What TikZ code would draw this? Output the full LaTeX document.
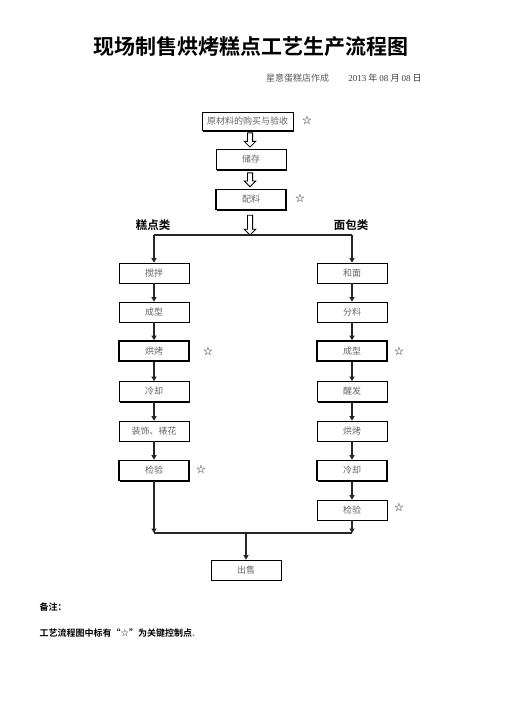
\documentclass[tikz,border=0pt]{standalone}
\usepackage{fontspec}
\newfontfamily\cjk{Noto Sans CJK SC}
\newfontfamily\cjkb{Noto Sans CJK SC Bold}
\newfontfamily\sym{DejaVu Sans}
\newfontfamily\serif{Liberation Serif}
\usetikzlibrary{arrows.meta,shadows,calc}
\begin{document}
\begin{tikzpicture}[x=1pt,y=-1pt,
  box/.style={draw, fill=white, line width=0.7pt, minimum width=70pt, minimum height=20pt,
    inner sep=0pt, text=black!60, font=\cjk\fontsize{9}{9}\selectfont,
    drop shadow={shadow xshift=1.2pt, shadow yshift=-1.2pt, opacity=1, fill=black}},
  ccp/.style={line width=1.6pt},
  line/.style={draw=black!85, line width=1.2pt},
  flow/.style={line, -{Triangle[length=4.5pt,width=5pt]}},
  hollowarr/.style={draw, fill=white, line width=0.8pt, line join=miter},
  star/.style={font=\sym\fontsize{11.5}{11.5}\selectfont, text=black},
  cat/.style={font=\cjkb\fontsize{11.5}{11.5}\selectfont},
  note/.style={font=\cjkb\fontsize{9}{9}\selectfont, anchor=west}]
\fill[white] (0,0) rectangle (504,713);
\useasboundingbox (0,0) rectangle (504,713);

% title
\node[font=\cjkb\fontsize{21}{21}\selectfont] (title) at (251,47) {现场制售烘烤糕点工艺生产流程图};
\node[font=\cjk\fontsize{9}{9}\selectfont, text=black!65] (maker) at (297.5,78) {星意蛋糕店作成};
\node[font=\cjk\fontsize{9}{9}\selectfont, text=black!75] (date) at (385,78) {{\serif 2013} 年 {\serif 08} 月 {\serif 08} 日};

% top chain
\coordinate (ax) at (250,0);
\node[box, minimum width=91pt, minimum height=18pt] (raw) at (247.5,121.5) {原材料的购买与验收};
\node[box] (store) at (251,159.5) {储存};
\node[box, ccp] (mix) at (251,199.5) {配料};
\node[star] (s1) at (307,120) {☆};
\node[star] (s2) at (300,198.5) {☆};

\newcommand\hollowdown[2]{%
  \draw[hollowarr] let \p1=#1, \p2=#2 in
    (\x1-2.6pt,\y1) -- (\x1+2.6pt,\y1) -- (\x1+2.6pt,\y2+5.8pt) -- (\x1+5.8pt,\y2+5.8pt)
    -- (\x1,\y2) -- (\x1-5.8pt,\y2+5.8pt) -- (\x1-2.6pt,\y2+5.8pt) -- cycle;}
\hollowdown{([yshift=-2pt]raw.south -| ax)}{([yshift=2pt]store.north -| ax)}
\hollowdown{([yshift=-3pt]store.south -| ax)}{([yshift=2pt]mix.north -| ax)}
\coordinate (sp) at (250,235);
\hollowdown{([yshift=-5pt]mix.south -| ax)}{(sp)}

\node[cat] (catL) at (153,225) {糕点类};
\node[cat] (catR) at (351,225) {面包类};

% left column
\node[box] (L1) at (154,273) {搅拌};
\node[box] (L2) at (154,312) {成型};
\node[box, ccp] (L3) at (154,351) {烘烤};
\node[box] (L4) at (154,391.5) {冷却};
\node[box] (L5) at (154,431) {装饰、裱花};
\node[box, ccp] (L6) at (154,470.5) {检验};
% right column
\node[box] (R1) at (352,273) {和面};
\node[box] (R2) at (352,312) {分料};
\node[box, ccp] (R3) at (352,351) {成型};
\node[box] (R4) at (352,391.5) {醒发};
\node[box] (R5) at (352,431) {烘烤};
\node[box, ccp] (R6) at (352,470.5) {冷却};
\node[box] (R7) at (352,510) {检验};

\node[star] (s3) at (208,351) {☆};
\node[star] (s4) at (399,351) {☆};
\node[star] (s5) at (201,469) {☆};
\node[star] (s6) at (399,507.5) {☆};

% split
\draw[line] (L1.north |- sp) -- (R1.north |- sp);
\draw[flow] (L1.north |- sp) -- (L1.north);
\draw[flow] (R1.north |- sp) -- (R1.north);
\foreach \a/\b in {L1/L2,L2/L3,L3/L4,L4/L5,L5/L6,R1/R2,R2/R3,R3/R4,R4/R5,R5/R6,R6/R7}
  \draw[flow] (\a.south) -- (\b.north);

% merge
\node[box] (sell) at (246,570) {出售};
\coordinate (mg) at (246,533);
\draw[line] (L6.south |- mg) -- (R7.south |- mg);
\draw[flow] (L6.south) -- (L6.south |- mg);
\draw[flow] (R7.south) -- (R7.south |- mg);
\draw[flow] (mg) -- (sell.north);

% notes
\node[note] (n1) at (36,607) {备注：};
\node[note] (n2) at (36,633) {工艺流程图中标有“{\sym\fontsize{9.5}{9.5}\selectfont ☆}”为关键控制点{\mdseries\color{black!50}.}};
\end{tikzpicture}
\end{document}
